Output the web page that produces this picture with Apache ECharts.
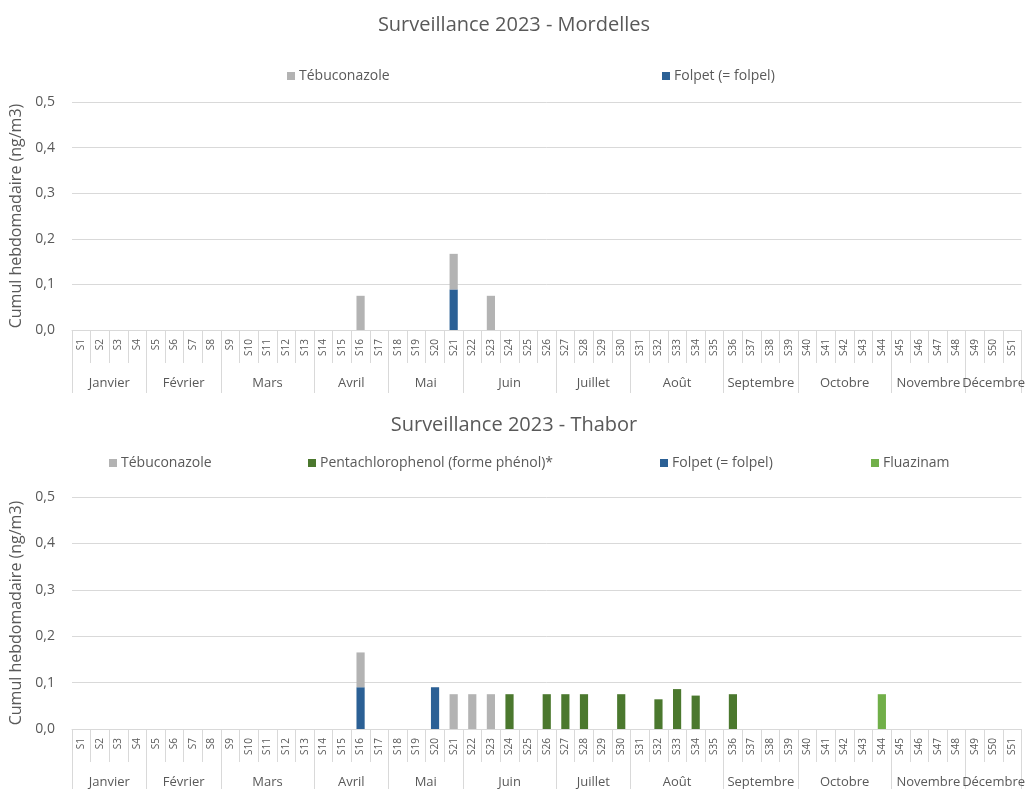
<!DOCTYPE html>
<html>
<head>
<meta charset="utf-8">
<script src="https://cdn.jsdelivr.net/npm/echarts@6/dist/echarts.min.js"></script>
<style>
html,body{margin:0;padding:0;background:#fff;}
#c{width:1028px;height:789px;}
</style>
</head>
<body>
<div id="c"></div>
<script>
// ---- Data ----
const weeks = ["S1","S2","S3","S4","S5","S6","S7","S8","S9","S10","S11","S12","S13","S14","S15","S16","S17","S18","S19","S20","S21","S22","S23","S24","S25","S26","S27","S28","S29","S30","S31","S32","S33","S34","S35","S36","S37","S38","S39","S40","S41","S42","S43","S44","S45","S46","S47","S48","S49","S50","S51"];
const months = ["Janvier","Février","Mars","Avril","Mai","Juin","Juillet","Août","Septembre","Octobre","Novembre","Décembre"];
const weeksPerMonth = [4,4,5,4,4,5,4,5,4,5,4,3];
const yTicks = [0, 0.1, 0.2, 0.3, 0.4, 0.5];

const titleTop = "Surveillance 2023 - Mordelles";
const titleBottom = "Surveillance 2023 - Thabor";
const yName = "Cumul hebdomadaire (ng/m3)";

const nameTebu = "Tébuconazole";
const namePenta = "Pentachlorophenol (forme phénol)*";
const nameFolpet = "Folpet (= folpel)";
const nameFluaz = "Fluazinam";

// Mordelles (S1..S51)
const mordellesTebu   = [null,null,null,null,null,null,null,null,null,null,null,null,null,null,null,0.075,null,null,null,null,0.078,null,0.075,null,null,null,null,null,null,null,null,null,null,null,null,null,null,null,null,null,null,null,null,null,null,null,null,null,null,null,null];
const mordellesFolpet = [null,null,null,null,null,null,null,null,null,null,null,null,null,null,null,null,null,null,null,null,0.089,null,null,null,null,null,null,null,null,null,null,null,null,null,null,null,null,null,null,null,null,null,null,null,null,null,null,null,null,null,null];

// Thabor (S1..S51)
const thaborTebu   = [null,null,null,null,null,null,null,null,null,null,null,null,null,null,null,0.075,null,null,null,null,0.075,0.075,0.075,null,null,null,null,null,null,null,null,null,null,null,null,null,null,null,null,null,null,null,null,null,null,null,null,null,null,null,null];
const thaborPenta  = [null,null,null,null,null,null,null,null,null,null,null,null,null,null,null,null,null,null,null,null,null,null,null,0.075,null,0.075,0.075,0.075,null,0.075,null,0.064,0.086,0.072,null,0.075,null,null,null,null,null,null,null,null,null,null,null,null,null,null,null];
const thaborFolpet = [null,null,null,null,null,null,null,null,null,null,null,null,null,null,null,0.090,null,null,null,0.090,null,null,null,null,null,null,null,null,null,null,null,null,null,null,null,null,null,null,null,null,null,null,null,null,null,null,null,null,null,null,null];
const thaborFluaz  = [null,null,null,null,null,null,null,null,null,null,null,null,null,null,null,null,null,null,null,null,null,null,null,null,null,null,null,null,null,null,null,null,null,null,null,null,null,null,null,null,null,null,null,0.075,null,null,null,null,null,null,null];

// ---- Styles ----
const TXT = '#595959';
const GRID = '#d9d9d9';
const FONT = 'Open Sans';
const C_TEBU = '#b3b3b3';
const C_PENTA = '#4b782e';
const C_FOLPET = '#2b6095';
const C_FLUAZ = '#71af49';

// month boundaries / midpoints derived from counts
const bounds = [0];
weeksPerMonth.forEach(n => bounds.push(bounds[bounds.length - 1] + n));
const mids = months.map((m, i) => (bounds[i] + bounds[i + 1]) / 2);

function weekAxis(gi) {
  return {
    type: 'category', gridIndex: gi, data: weeks, position: 'bottom',
    axisLine: { lineStyle: { color: GRID } },
    axisTick: { show: true, interval: 0, length: 33, lineStyle: { color: GRID } },
    axisLabel: { interval: 0, rotate: 90, margin: 9, fontSize: 10, color: TXT, fontFamily: FONT }
  };
}
function monthAxis(gi) {
  return {
    type: 'value', gridIndex: gi, min: 0, max: weeks.length, position: 'bottom',
    axisLine: { show: false },
    splitLine: { show: false },
    axisTick: { show: true, customValues: bounds, length: 63, lineStyle: { color: GRID } },
    axisLabel: {
      customValues: mids, margin: 47, fontSize: 13, color: TXT, fontFamily: FONT,
      formatter: v => { const i = mids.indexOf(v); return i >= 0 ? months[i] : ''; }
    }
  };
}
function yAxis(gi) {
  return {
    type: 'value', gridIndex: gi, min: yTicks[0], max: yTicks[yTicks.length - 1], interval: 0.1,
    name: yName, nameLocation: 'middle', nameGap: 47,
    nameTextStyle: { fontSize: 16, color: TXT, fontFamily: FONT },
    axisLine: { show: false }, axisTick: { show: false },
    splitLine: { lineStyle: { color: GRID } },
    axisLabel: { fontSize: 14, color: TXT, fontFamily: FONT, margin: 17,
      formatter: v => v.toFixed(1).replace('.', ',') }
  };
}
function legend(name, left, top) {
  return {
    data: [name], left: left, top: top, icon: 'rect', itemWidth: 8, itemHeight: 8, itemGap: 0,
    textStyle: { fontSize: 14, color: TXT, fontFamily: FONT, padding: [0, 0, 0, -1] }, selectedMode: false
  };
}

const chart = echarts.init(document.getElementById('c'), null, { renderer: 'canvas' });
chart.setOption({
  backgroundColor: '#fff',
  animation: false,
  textStyle: { fontFamily: FONT },
  title: [
    { text: titleTop, left: 'center', top: 10, textStyle: { fontSize: 20, fontWeight: 'normal', color: TXT, fontFamily: FONT } },
    { text: titleBottom, left: 'center', top: 410, textStyle: { fontSize: 20, fontWeight: 'normal', color: TXT, fontFamily: FONT } }
  ],
  legend: [
    legend(nameTebu, 282, 64),
    legend(nameFolpet, 657, 64),
    legend(nameTebu, 104, 451),
    legend(namePenta, 303, 451),
    legend(nameFolpet, 655, 451),
    legend(nameFluaz, 866, 451)
  ],
  grid: [
    { left: 72, width: 956, top: 102, height: 228 },
    { left: 72, width: 956, top: 497, height: 232 }
  ],
  xAxis: [weekAxis(0), monthAxis(0), weekAxis(1), monthAxis(1)],
  yAxis: [yAxis(0), yAxis(1)],
  series: [
    { name: nameFolpet, type: 'bar', data: mordellesFolpet, stack: 'm', barWidth: '44%', xAxisIndex: 0, yAxisIndex: 0, itemStyle: { color: C_FOLPET } },
    { name: nameTebu, type: 'bar', data: mordellesTebu, stack: 'm', barWidth: '44%', xAxisIndex: 0, yAxisIndex: 0, itemStyle: { color: C_TEBU } },
    { name: nameFolpet, type: 'bar', data: thaborFolpet, stack: 't', barWidth: '44%', xAxisIndex: 2, yAxisIndex: 1, itemStyle: { color: C_FOLPET } },
    { name: nameTebu, type: 'bar', data: thaborTebu, stack: 't', barWidth: '44%', xAxisIndex: 2, yAxisIndex: 1, itemStyle: { color: C_TEBU } },
    { name: namePenta, type: 'bar', data: thaborPenta, stack: 't', barWidth: '44%', xAxisIndex: 2, yAxisIndex: 1, itemStyle: { color: C_PENTA } },
    { name: nameFluaz, type: 'bar', data: thaborFluaz, stack: 't', barWidth: '44%', xAxisIndex: 2, yAxisIndex: 1, itemStyle: { color: C_FLUAZ } }
  ]
});
</script>
</body>
</html>
